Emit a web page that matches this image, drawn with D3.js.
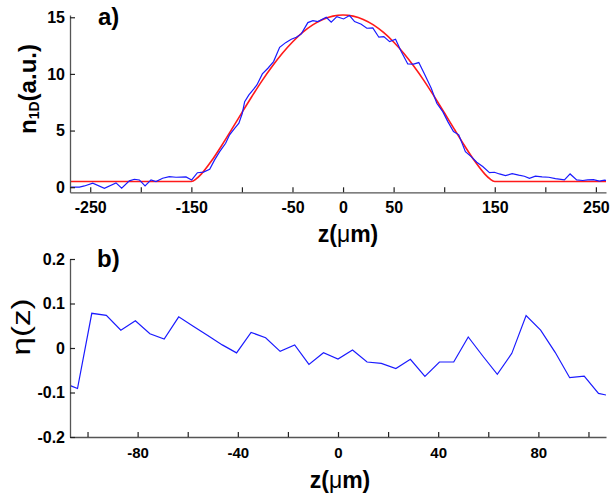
<!DOCTYPE html>
<html><head><meta charset="utf-8">
<script src="https://cdn.jsdelivr.net/npm/d3@7"></script>
<style>
html,body{margin:0;padding:0;background:#fff;}
svg{display:block;font-family:"Liberation Sans",Arial,sans-serif;}
</style></head>
<body><svg id="c" width="611" height="495"></svg>
<script>
// ---- Panel a) data ----
const densZ = [-271,-260.7,-255.7,-247.5,-236,-224.5,-218.9,-211.3,-206.3,-201.4,-195.8,-189.9,-185,-178.4,-171.8,-165.2,-155.3,-149.7,-144,-138,-131.9,-127,-122,-116.1,-112.2,-107.2,-103,-99.6,-97.3,-93.1,-88.4,-85.2,-79.8,-74.3,-68.7,-62.7,-56.8,-51.2,-46.2,-41.3,-34.8,-29.8,-24.9,-16.6,-11.7,-6.1,0.5,6.4,11.4,18,23.5,29.4,35.4,40.3,46,51.9,57.5,64,69.7,74.9,80.5,87.2,92.7,98.6,103.6,109.2,114.4,121,126.7,132.2,138.1,144.8,149.7,154.6,160.6,167.2,173.7,179.3,184.3,190.2,196.8,203.4,210,218.9,224.5,231,237,241.9,247.5,253.5,258.4,262];
const densN = [0.0,0.0,0.11,0.35,-0.09,0.38,-0.09,0.56,0.70,0.64,0.11,0.64,0.5,0.79,0.94,0.88,0.91,0.64,1.28,1.33,1.59,2.41,3.14,3.88,4.62,5.2,5.65,6.53,7.55,8.15,8.65,9.03,10.0,10.5,11.09,12.35,12.76,13.06,13.24,13.53,14.53,14.7,14.62,15.0,14.56,15.06,14.85,15.15,14.62,14.38,14.03,14.06,13.24,13.29,12.85,13.06,11.97,10.88,10.86,11.0,10.0,8.74,7.41,6.67,5.79,4.91,4.62,3.14,2.70,2.2,1.82,1.29,1.32,1.17,1.02,1.2,1.06,0.97,0.79,0.97,0.91,0.88,0.76,0.64,1.17,0.64,0.59,0.64,0.67,0.53,0.62,0.6];
const fitZ = [-270,-150,-145,-140,-130,-120,-110,-100,-90,-80,-70,-60,-50,-40,-30,-20,-10,0,10,20,30,40,50,60,70,80,90,100,110,120,130,140,145,150,260];
const fitN = [0.5,0.5,0.75,1.18,2.33,3.68,5.12,6.59,8.03,9.41,10.67,11.82,12.82,13.66,14.33,14.81,15.1,15.2,15.1,14.81,14.33,13.66,12.82,11.82,10.67,9.41,8.03,6.59,5.12,3.68,2.33,1.18,0.75,0.5,0.5];
const topXTicks = [-250,-200,-150,-100,-50,0,50,100,150,200,250];
const topXLabels = [-250,-150,-50,0,50,150,250];
const topYTicks = [0,5,10,15];

// ---- Panel b) data ----
const etaZ = [-109.8,-104.0,-98.3,-92.5,-86.7,-80.9,-75.1,-69.4,-63.6,-57.8,-52.0,-46.2,-40.5,-34.7,-28.9,-23.1,-17.3,-11.6,-5.8,0,5.8,11.6,17.3,23.1,28.9,34.7,40.5,46.2,52.0,57.8,63.6,69.4,75.1,80.9,86.7,92.5,98.3,104.0,109.8];
const etaV = [-0.078,-0.091,0.078,0.0735,0.040,0.061,0.032,0.020,0.070,0.049,0.028,0.007,-0.011,0.035,0.023,-0.0075,0.0067,-0.037,-0.0105,-0.025,-0.0045,-0.0315,-0.0345,-0.046,-0.0255,-0.064,-0.0315,-0.0315,0.0247,-0.018,-0.059,-0.012,0.0727,0.040,-0.0097,-0.0667,-0.063,-0.102,-0.109];
const botXTicks = [-100,-80,-60,-40,-20,0,20,40,60,80,100];
const botXLabels = [-80,-40,0,40,80];
const botYTicks = [-0.2,-0.1,0,0.1,0.2];
const botYLabels = ["-0.2","-0.1","0","0.1","0.2"];

const svg = d3.select("#c");
const AXC = "#555";

function styleAxis(g, fs){
  g.select(".domain").attr("stroke", AXC).attr("stroke-width", 1.3);
  g.selectAll(".tick line").attr("stroke", "#222").attr("stroke-width", 1.2);
  g.selectAll(".tick text").attr("fill", "#000").attr("font-weight", "bold")
    .attr("font-size", fs).attr("font-family", "Liberation Sans, Arial, sans-serif");
}

// ================= Panel a =================
const xa = d3.scaleLinear().domain([-270, 260]).range([70, 606]);
const ya = d3.scaleLinear().domain([-0.45, 15.2]).range([192.3, 15]);

svg.append("clipPath").attr("id","clipA").append("rect")
  .attr("x",70).attr("y",10).attr("width",536).attr("height",183);

const gA = svg.append("g").attr("clip-path","url(#clipA)");
gA.append("path").datum(fitZ.map((z,i)=>[z,fitN[i]]))
  .attr("fill","none").attr("stroke","#ff1a1a").attr("stroke-width",1.6)
  .attr("d", d3.line().x(d=>xa(d[0])).y(d=>ya(d[1])).curve(d3.curveMonotoneX));
gA.append("path").datum(densZ.map((z,i)=>[z,densN[i]]))
  .attr("fill","none").attr("stroke","#1a1aff").attr("stroke-width",1.2)
  .attr("d", d3.line().x(d=>xa(d[0])).y(d=>ya(d[1])));

const axA = svg.append("g").attr("transform","translate(0,192.3)")
  .call(d3.axisBottom(xa).tickValues(topXTicks).tickSizeInner(-5).tickSizeOuter(0).tickPadding(9)
    .tickFormat(d => topXLabels.includes(d) ? String(d) : ""));
styleAxis(axA, 16);
const ayA = svg.append("g").attr("transform","translate(70,0)")
  .call(d3.axisLeft(ya).tickValues(topYTicks).tickSizeInner(-5).tickSizeOuter(0).tickPadding(5)
    .tickFormat(d => String(d)));
styleAxis(ayA, 16);

svg.append("text").attr("x",98).attr("y",25).attr("font-size",24).attr("font-weight","bold").text("a)");

const zlA = svg.append("text").attr("x",348).attr("y",242).attr("text-anchor","middle")
  .attr("font-size",23).attr("font-weight","bold");
zlA.append("tspan").text("z(");
zlA.append("tspan").attr("font-weight","normal").text("μ");
zlA.append("tspan").text("m)");

const nl = svg.append("text").attr("transform","translate(36,89) rotate(-90)")
  .attr("text-anchor","middle").attr("font-size",24).attr("font-weight","bold");
nl.append("tspan").text("n");
nl.append("tspan").attr("font-size",14).attr("dy",3).text("1D");
nl.append("tspan").attr("dy",-3).text("(a.u.)");

// ================= Panel b =================
const xb = d3.scaleLinear().domain([-107, 107]).range([70, 606]);
const yb = d3.scaleLinear().domain([-0.2, 0.2]).range([437, 259]);

svg.append("clipPath").attr("id","clipB").append("rect")
  .attr("x",70).attr("y",255).attr("width",536).attr("height",183);

svg.append("g").attr("clip-path","url(#clipB)")
  .append("path").datum(etaZ.map((z,i)=>[z,etaV[i]]))
  .attr("fill","none").attr("stroke","#1a1aff").attr("stroke-width",1.2)
  .attr("d", d3.line().x(d=>xb(d[0])).y(d=>yb(d[1])));

const axB = svg.append("g").attr("transform","translate(0,437)")
  .call(d3.axisBottom(xb).tickValues(botXTicks).tickSizeInner(-5).tickSizeOuter(0).tickPadding(10)
    .tickFormat(d => botXLabels.includes(d) ? String(d) : ""));
styleAxis(axB, 15);
const ayB = svg.append("g").attr("transform","translate(70,0)")
  .call(d3.axisLeft(yb).tickValues(botYTicks).tickSizeInner(-5).tickSizeOuter(0).tickPadding(5)
    .tickFormat((d,i) => botYLabels[i]));
styleAxis(ayB, 16);

svg.append("text").attr("x",97).attr("y",267).attr("font-size",24).attr("font-weight","bold").text("b)");

const zlB = svg.append("text").attr("x",340).attr("y",488).attr("text-anchor","middle")
  .attr("font-size",23).attr("font-weight","bold");
zlB.append("tspan").text("z(");
zlB.append("tspan").attr("font-weight","normal").text("μ");
zlB.append("tspan").text("m)");

svg.append("text").attr("transform","translate(30,327) rotate(-90)")
  .attr("text-anchor","middle").attr("font-size",25)
  .attr("textLength",57).attr("lengthAdjust","spacingAndGlyphs")
  .text("η(z)");
</script>
</body></html>
